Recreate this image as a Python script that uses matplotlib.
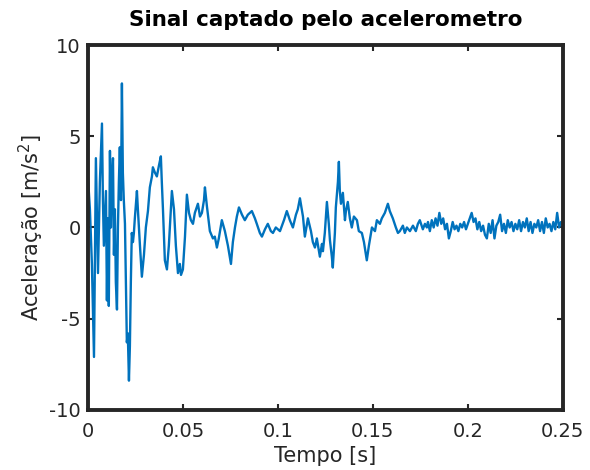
import numpy as np
import matplotlib
matplotlib.use("Agg")
import matplotlib.pyplot as plt

plt.rcParams["axes.unicode_minus"] = False

# key points (time in ms, acceleration in m/s^2)
t_ms = [0, 1.05, 2.1, 3.2, 4.2, 4.7, 5.3, 6.3, 7.4, 7.9, 8.4, 9.5, 10.0, 10.5, 11.0,
        11.6, 12.1, 12.6, 13.2, 13.7, 14.2, 14.7, 15.3, 15.8, 16.3, 16.8, 17.4, 17.9,
        18.4, 18.9, 19.5, 20.0, 20.5, 21.0, 21.6, 22.1, 22.6, 23.1, 23.7, 24.2, 24.7,
        25.8, 26.3, 27.4, 28.4, 29.5, 30.5, 31.6, 32.6, 33.7, 34.2, 35.3, 36.3, 37.4,
        38.4, 38.9, 39.5, 40.5, 41.6, 42.6, 43.7, 44.2, 45.3, 46.3, 47.4, 48.4, 49.0,
        50.0, 51.1, 52.1, 53.2, 54.2, 55.3, 56.3, 57.9, 59.0, 60.0, 61.1, 61.6, 62.6,
        64.2, 65.8, 66.8, 67.9, 68.9, 70.5, 72.1, 73.7, 75.3, 76.3, 77.4, 78.4, 79.5,
        81.1, 82.6, 84.2, 86.3, 87.9, 88.9, 90.5, 91.6, 93.2, 94.7, 96.3, 97.4, 98.9,
        101.1, 103.2, 104.7, 106.3, 107.9, 109.5, 110.5, 111.6, 113.2, 114.2, 115.8,
        117.4, 118.4, 119.5, 120.5, 122.1, 123.2, 123.7, 124.7, 125.8, 126.8, 127.4,
        128.4, 128.9, 130.0, 130.5, 131.6, 132.1, 132.6, 133.2, 134.2, 135.3, 135.8,
        136.8, 137.9, 138.9, 140.0, 141.6, 142.6, 144.2, 145.3, 146.8, 147.9, 149.5,
        151.1, 152.1, 153.7, 154.7, 156.3, 157.9, 158.9, 160.5, 162.1, 163.2, 164.2,
        165.8, 166.8, 167.9, 169.5, 171.1, 172.6, 173.7, 174.7, 176.3, 177.4, 178.4]
acc = [2.8, 1.0, -2.0, -7.1, 3.8, 1.0, -2.5, 2.5, 5.7, 1.5, -1.0, 2.0, -4.0, 0.5, -4.3,
       4.2, 0.0, 2.5, 3.8, -1.5, 1.0, -3.0, -4.5, 0.0, 2.5, 4.4, 1.5, 7.9,
       3.0, 1.5, 0.2, -3.0, -6.3, -5.8, -8.4, -6.5, -3.0, -0.3, -0.8, -0.3, 0.5,
       2.0, 1.0, -1.0, -2.7, -1.5, 0.0, 0.9, 2.2, 2.8, 3.3, 3.0, 2.8, 3.4,
       3.9, 2.5, 1.0, -1.8, -2.3, -1.0, 1.0, 2.0, 1.0, -1.0, -2.5, -2.0, -2.6,
       -2.3, -0.5, 1.8, 0.8, 0.4, 0.2, 0.8, 1.3, 0.6, 0.8, 1.5, 2.2, 1.2,
       -0.2, -0.6, -0.5, -1.1, -0.6, 0.4, -0.2, -1.0, -2.0, -0.8, 0.0, 0.6, 1.1,
       0.7, 0.4, 0.7, 0.9, 0.5, 0.2, -0.3, -0.5, -0.1, 0.2, -0.2, -0.3, 0.0,
       -0.2, 0.4, 0.9, 0.4, 0.0, 0.7, 1.0, 1.6, 0.6, -0.5, 0.5,
       -0.2, -0.8, -1.1, -0.6, -1.6, -0.9, -1.3, -0.3, 1.4, 0.2, -0.7,
       -1.6, -2.2, -0.3, 1.1, 2.5, 3.6, 2.0, 1.3, 1.9, 0.4, 0.9,
       1.4, 0.5, 0.0, 0.6, 0.4, -0.2, -0.3, -0.8, -1.8, -1.0, 0.0,
       -0.2, 0.4, 0.2, 0.5, 0.8, 1.3, 0.9, 0.5, 0.0, -0.3, -0.2,
       0.1, -0.3, 0.0, -0.2, 0.1, -0.2, 0.2, 0.4, -0.1, 0.2, 0.0]

# tail (179..250 ms, 1 ms apart)
tail_ms = list(range(179, 251))
tail_acc = [0.3, -0.2, 0.4, 0.0, 0.5, 0.1, 0.8, 0.2, 0.5, -0.1, 0.2, -0.6, -0.2, 0.3,
            -0.1, 0.1, -0.2, 0.2, 0.0, 0.3, -0.1, 0.2, 0.5, 0.8, 0.3, 0.5, -0.1, 0.3,
            -0.2, 0.1, -0.4, -0.6, 0.2, -0.3, 0.4, -0.6, 0.1, 0.3, 0.7, -0.2, 0.2,
            -0.3, 0.4, 0.0, 0.3, -0.2, 0.2, -0.1, 0.4, -0.2, 0.3, 0.0, 0.5, -0.2,
            0.3, -0.3, 0.2, 0.0, 0.4, -0.2, 0.3, -0.3, 0.5, 0.0, 0.2, -0.2, 0.3,
            -0.1, 0.8, 0.0, 0.3, 0.1]

t = np.array(t_ms + tail_ms) / 1000.0
a = np.array(acc + tail_acc)

fig = plt.figure(figsize=(5.9, 4.7), dpi=100)
ax = fig.add_axes([0.149, 0.128, 0.805, 0.776])

ax.plot(t, a, color="#0072BD", linewidth=1.7)

ax.set_xlim(0, 0.25)
ax.set_ylim(-10, 10)
ax.set_xticks([0, 0.05, 0.1, 0.15, 0.2, 0.25])
ax.set_xticklabels(["0", "0.05", "0.1", "0.15", "0.2", "0.25"])
ax.set_yticks([-10, -5, 0, 5, 10])

for s in ax.spines.values():
    s.set_linewidth(2.8)
    s.set_color("#262626")
ax.tick_params(direction="in", top=True, right=True, length=4, width=1.5,
               labelsize=14, colors="#262626")
ax.tick_params(axis="x", pad=9)
ax.tick_params(axis="y", pad=5)

ax.set_title("Sinal captado pelo acelerometro", fontsize=15.5, fontweight="bold", pad=14)
ax.set_xlabel("Tempo [s]", fontsize=15, color="#262626", labelpad=3)
ax.set_ylabel("Aceleração [m/s$^2$]", fontsize=15, color="#262626", labelpad=2)

fig.savefig("out.png", dpi=100)
